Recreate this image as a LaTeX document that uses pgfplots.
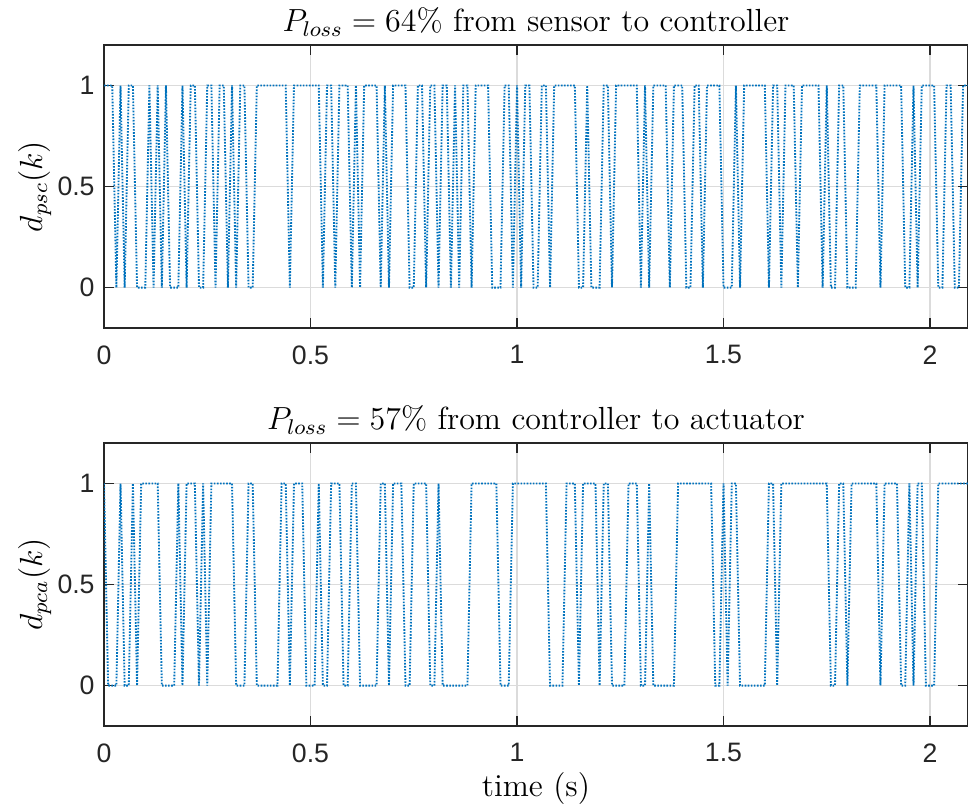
\documentclass[border=0pt]{standalone}
\usepackage{pgfplots}
\pgfplotsset{compat=1.18}
\usepackage{fontspec}
\newfontfamily\ticksans{Liberation Sans}
\definecolor{mblue}{rgb}{0,0.447,0.741}
\definecolor{axgray}{rgb}{0.15,0.15,0.15}
\definecolor{gridgray}{rgb}{0.86,0.86,0.86}
\pgfplotsset{
  every axis title shift=0pt,
  myax/.style={
    scale only axis, width=324pt, height=106.125pt,
    anchor=north west,
    xmin=0, xmax=2.092, ymin=-0.2, ymax=1.2,
    xtick={0,0.5,1,1.5,2}, ytick={0,0.5,1},
    grid=major, major grid style={gridgray, line width=0.5pt},
    axis line style={axgray, line width=0.5pt},
    tick style={axgray, line width=0.5pt},
    tick align=inside, major tick length=3.7pt,
    xtick pos=both, ytick pos=both,
    /pgf/number format/assume math mode=true,
    ticklabel style={font=\ticksans\fontsize{10}{12}\selectfont, text=axgray},
    xticklabel style={yshift=-3pt},
    title style={font=\fontsize{12}{14}\selectfont, at={(axis description cs:0.5,1)}, anchor=base, yshift=4.9pt},
    label style={font=\fontsize{12}{14}\selectfont},
    ylabel style={at={(axis description cs:-0.0802,0.5)}, anchor=center},
    xlabel style={at={(axis description cs:0.5,0)}, anchor=center, yshift=-23.5pt},
  },
  sig/.style={mblue, line width=0.7pt, dash pattern=on 0.6pt off 0.55pt},
}
\begin{document}
\begin{tikzpicture}
\begin{axis}[myax, at={(39pt,-16.875pt)},
  title={$P_{loss}=64\%$ from sensor to controller},
  ylabel={$d_{psc}(k)$}]
\addplot[sig] coordinates {
(0,1)(0.02,1)(0.03,0)(0.04,1)(0.05,0)(0.06,1)(0.07,1)(0.08,0)(0.10,0)(0.11,1)(0.12,0)(0.13,1)(0.14,0)(0.15,1)(0.16,0)(0.18,0)(0.19,1)(0.20,0)(0.21,1)(0.22,1)(0.23,0)(0.24,0)(0.25,1)(0.26,1)(0.27,0)(0.28,1)(0.29,1)(0.30,0)(0.31,1)(0.32,0)(0.33,1)(0.34,1)(0.35,0)(0.36,0)(0.37,1)(0.44,1)(0.45,0)(0.46,1)(0.52,1)(0.53,0)(0.54,1)(0.55,1)(0.56,0)(0.57,1)(0.59,1)(0.60,0)(0.61,1)(0.62,0)(0.63,1)(0.66,1)(0.67,0)(0.68,1)(0.69,0)(0.70,1)(0.73,1)(0.74,0)(0.75,0)(0.76,1)(0.77,1)(0.78,0)(0.79,1)(0.80,1)(0.81,0)(0.82,1)(0.83,1)(0.84,0)(0.85,1)(0.86,0)(0.87,1)(0.88,1)(0.89,0)(0.90,1)(0.93,1)(0.94,0)(0.96,0)(0.97,1)(0.98,1)(0.99,0)(1.00,1)(1.01,0)(1.02,1)(1.03,1)(1.04,0)(1.05,0)(1.06,1)(1.07,1)(1.08,0)(1.09,1)(1.14,1)(1.15,0)(1.16,0)(1.17,1)(1.18,0)(1.20,0)(1.21,1)(1.22,1)(1.23,0)(1.24,1)(1.29,1)(1.30,0)(1.31,1)(1.32,0)(1.33,1)(1.36,1)(1.37,0)(1.38,1)(1.40,1)(1.41,0)(1.42,0)(1.43,1)(1.44,1)(1.45,0)(1.46,1)(1.49,1)(1.50,0)(1.52,0)(1.53,1)(1.54,0)(1.55,1)(1.60,1)(1.61,0)(1.62,1)(1.63,1)(1.64,0)(1.65,1)(1.67,1)(1.68,0)(1.69,1)(1.73,1)(1.74,0)(1.75,1)(1.76,0)(1.77,0)(1.78,1)(1.79,1)(1.80,0)(1.82,0)(1.83,1)(1.87,1)(1.88,0)(1.89,1)(1.93,1)(1.94,0)(1.95,0)(1.96,1)(1.97,0)(1.98,1)(2.01,1)(2.02,0)(2.03,0)(2.04,1)(2.05,1)(2.06,0)(2.07,0)(2.08,1)(2.10,1)
};
\end{axis}
\begin{axis}[myax, at={(39pt,-166.125pt)},
  title={$P_{loss}=57\%$ from controller to actuator},
  ylabel={$d_{pca}(k)$}, xlabel={time (s)}]
\addplot[sig] coordinates {
(0,1)(0.01,0)(0.03,0)(0.04,1)(0.05,0)(0.06,0)(0.07,1)(0.08,0)(0.09,1)(0.13,1)(0.14,0)(0.17,0)(0.18,1)(0.19,0)(0.20,1)(0.22,1)(0.23,0)(0.24,1)(0.25,0)(0.26,1)(0.31,1)(0.32,0)(0.34,0)(0.35,1)(0.36,1)(0.37,0)(0.42,0)(0.43,1)(0.44,1)(0.45,0)(0.46,1)(0.48,1)(0.49,0)(0.51,0)(0.52,1)(0.53,0)(0.54,0)(0.55,1)(0.57,1)(0.58,0)(0.59,0)(0.60,1)(0.61,1)(0.62,0)(0.66,0)(0.67,1)(0.68,1)(0.69,0)(0.70,1)(0.72,1)(0.73,0)(0.74,0)(0.75,1)(0.78,1)(0.79,0)(0.80,0)(0.81,1)(0.82,0)(0.88,0)(0.89,1)(0.95,1)(0.96,0)(0.98,0)(0.99,1)(1.07,1)(1.08,0)(1.11,0)(1.12,1)(1.14,1)(1.15,0)(1.16,1)(1.19,1)(1.20,0)(1.21,1)(1.22,1)(1.23,0)(1.26,0)(1.27,1)(1.29,1)(1.30,0)(1.31,0)(1.32,1)(1.33,0)(1.38,0)(1.39,1)(1.47,1)(1.48,0)(1.49,0)(1.50,1)(1.51,0)(1.52,1)(1.53,1)(1.54,0)(1.60,0)(1.61,1)(1.62,1)(1.63,0)(1.64,1)(1.75,1)(1.76,0)(1.77,0)(1.78,1)(1.79,1)(1.80,0)(1.81,1)(1.87,1)(1.88,0)(1.89,1)(1.92,1)(1.93,0)(1.94,0)(1.95,1)(1.96,0)(1.97,1)(1.98,1)(1.99,0)(2.01,0)(2.02,1)(2.10,1)
};
\end{axis}
\pgfresetboundingbox
\path (0,0) rectangle (363pt,-303pt);
\end{tikzpicture}
\end{document}
